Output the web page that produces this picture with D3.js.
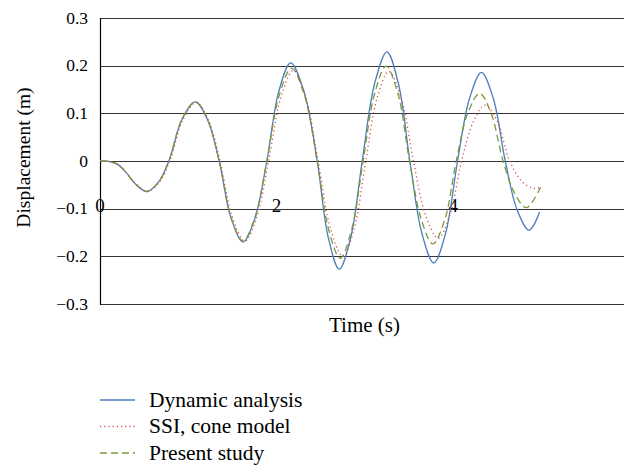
<!DOCTYPE html>
<html><head><meta charset="utf-8">
<script src="https://cdn.jsdelivr.net/npm/d3@7"></script>
<style>body{margin:0;background:#fff}svg{display:block}</style>
</head><body>
<svg id="c" width="624" height="468"></svg>
<script>
const yTicks = [0.3, 0.2, 0.1, 0, -0.1, -0.2, -0.3];
const xTicks = [0, 2, 4];
const seriesNames = ["Dynamic analysis", "SSI, cone model", "Present study"];

const dynT = [0,0.1,0.2,0.3,0.4,0.53,0.66,0.78,0.93,1.08,1.215,1.35,1.485,1.62,1.755,1.89,2.025,2.16,2.31,2.46,2.585,2.71,2.84,2.97,3.11,3.25,3.38,3.51,3.645,3.78,3.915,4.05,4.185,4.32,4.455,4.59,4.725,4.86,4.98];
const dynV = [0,-0.001,-0.007,-0.025,-0.048,-0.064,-0.045,0,0.088,0.124,0.088,0,-0.12,-0.170,-0.12,0,0.146,0.206,0.146,0,-0.16,-0.227,-0.16,0,0.162,0.229,0.162,0,-0.151,-0.214,-0.151,0,0.131,0.186,0.131,0,-0.103,-0.145,-0.107];

const ssiT = [0,0.1,0.2,0.3,0.4,0.54,0.67,0.79,0.94,1.09,1.225,1.36,1.5,1.64,1.775,1.91,2.05,2.19,2.33,2.47,2.61,2.75,2.88,3.01,3.14,3.27,3.41,3.55,3.69,3.83,3.96,4.095,4.23,4.36,4.5,4.64,4.79,4.93,4.98];
const ssiV = [0,-0.001,-0.007,-0.025,-0.047,-0.064,-0.045,0,0.087,0.123,0.087,0,-0.118,-0.168,-0.118,0,0.134,0.19,0.134,0,-0.141,-0.20,-0.141,0,0.133,0.188,0.133,0,-0.115,-0.162,-0.115,0,0.083,0.117,0.083,0,-0.045,-0.058,-0.055];

const preT = [0,0.1,0.2,0.3,0.4,0.53,0.66,0.78,0.93,1.08,1.215,1.35,1.485,1.62,1.755,1.89,2.03,2.17,2.315,2.46,2.59,2.72,2.85,2.98,3.11,3.24,3.375,3.505,3.64,3.77,3.905,4.035,4.165,4.3,4.43,4.565,4.7,4.83,4.99];
const preV = [0,-0.001,-0.007,-0.025,-0.048,-0.064,-0.045,0,0.088,0.124,0.088,0,-0.119,-0.168,-0.118,0,0.138,0.195,0.138,0,-0.144,-0.204,-0.144,0,0.141,0.199,0.141,0,-0.123,-0.174,-0.123,0,0.10,0.142,0.10,0,-0.069,-0.098,-0.055];

const colors = ["#4a7ebb", "#dc4a50", "#7a9a3a"];
const dashes = [null, "1.2,3", "7,4"];
const FONT = "Liberation Serif, serif";

const svg = d3.select("#c");
const L = 100, R = 624, T = 18, B = 304;
const x = d3.scaleLinear().domain([0, 5.935]).range([L, R]);
const y = d3.scaleLinear().domain([-0.3, 0.3]).range([B, T]);

// gridlines
svg.append("g").selectAll("line").data(yTicks).join("line")
  .attr("x1", L).attr("x2", R)
  .attr("y1", d => Math.round(y(d)) + 0.5).attr("y2", d => Math.round(y(d)) + 0.5)
  .attr("stroke", "#333").attr("stroke-width", 1.2);
// left axis
svg.append("line").attr("x1", L + 0.5).attr("x2", L + 0.5).attr("y1", T).attr("y2", B + 1)
  .attr("stroke", "#000").attr("stroke-width", 1.2);

// y tick labels
const fmt = d => d === 0 ? "0" : (d < 0 ? "\u2212" : "") + Math.abs(d).toFixed(1);
svg.append("g").selectAll("text").data(yTicks).join("text")
  .attr("x", 88).attr("y", d => y(d) + 5.5)
  .attr("text-anchor", "end").attr("font-family", FONT).attr("font-size", 17.5)
  .text(fmt);

// x tick labels at y=-0.1
svg.append("g").selectAll("text").data(xTicks).join("text")
  .attr("x", d => x(d)).attr("y", y(-0.1) + 3.5)
  .attr("text-anchor", "middle").attr("font-family", FONT).attr("font-size", 19)
  .text(d => d);

// series
const series = [[dynT, dynV], [ssiT, ssiV], [preT, preV]];
const line = d3.line().x(d => x(d[0])).y(d => y(d[1])).curve(d3.curveCatmullRom.alpha(0.5));
[0, 2, 1].forEach(i => {
  const pts = series[i][0].map((t, k) => [t, series[i][1][k]]);
  svg.append("path").attr("d", line(pts)).attr("fill", "none")
    .attr("stroke", colors[i]).attr("stroke-width", 1.3)
    .attr("stroke-dasharray", dashes[i]);
});

// axis titles
svg.append("text").attr("x", 364.5).attr("y", 332).attr("text-anchor", "middle")
  .attr("font-family", FONT).attr("font-size", 21).text("Time (s)");
svg.append("text").attr("transform", "translate(30,157.5) rotate(-90)").attr("text-anchor", "middle")
  .attr("font-family", FONT).attr("font-size", 19.5).text("Displacement (m)");

// legend
const lg = svg.append("g");
seriesNames.forEach((n, i) => {
  const yy = 400 + i * 26.5;
  lg.append("line").attr("x1", 100).attr("x2", 135).attr("y1", yy).attr("y2", yy)
    .attr("stroke", colors[i]).attr("stroke-width", 1.3).attr("stroke-dasharray", dashes[i]);
  lg.append("text").attr("x", 149).attr("y", yy + 6.5).attr("font-family", FONT).attr("font-size", 21.5).text(n);
});
</script>
</body></html>
